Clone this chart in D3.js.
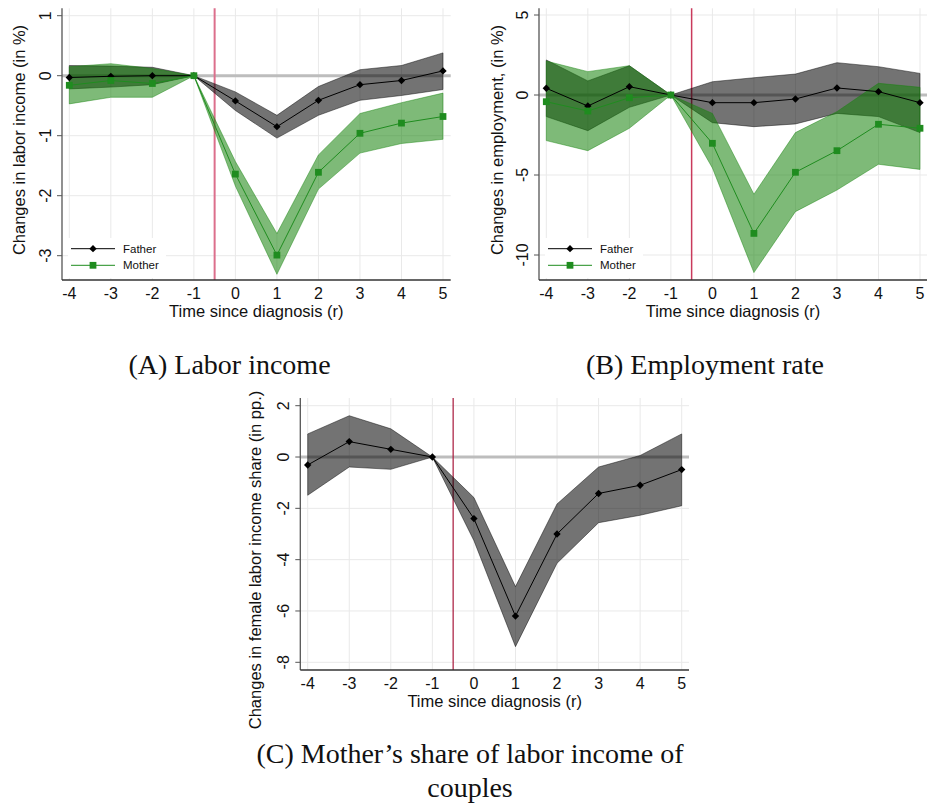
<!DOCTYPE html>
<html>
<head>
<meta charset="utf-8">
<script src="https://cdn.jsdelivr.net/npm/d3@7"></script>
<style>
  html, body { margin: 0; padding: 0; background: #fff; }
  svg { display: block; }
  .tick-label, .axis-title, .legend-text { font-family: "Liberation Sans", Arial, sans-serif; fill: #111; }
  .caption { font-family: "Liberation Serif", "Times New Roman", serif; fill: #111; }
</style>
</head>
<body>
<script>
// Event time relative to diagnosis
const periods = [-4, -3, -2, -1, 0, 1, 2, 3, 4, 5];

// (A) Labor income, % change
const incomeFather   = [-0.03, -0.01, 0.00, 0, -0.42, -0.85, -0.41, -0.15, -0.08, 0.08];
const incomeFatherLo = [-0.22, -0.19, -0.15, 0, -0.58, -1.04, -0.66, -0.41, -0.33, -0.23];
const incomeFatherHi = [0.17, 0.16, 0.14, 0, -0.27, -0.66, -0.18, 0.10, 0.17, 0.38];
const incomeMother   = [-0.16, -0.08, -0.13, 0, -1.64, -2.99, -1.61, -0.96, -0.79, -0.68];
const incomeMotherLo = [-0.47, -0.36, -0.36, 0, -1.84, -3.31, -1.89, -1.29, -1.13, -1.06];
const incomeMotherHi = [0.15, 0.20, 0.12, 0, -1.43, -2.63, -1.32, -0.63, -0.45, -0.29];
const incomeTicks = [1, 0, -1, -2, -3];

// (B) Employment rate, % change
const empFather   = [0.42, -0.69, 0.52, 0, -0.48, -0.48, -0.25, 0.44, 0.21, -0.48];
const empFatherLo = [-1.35, -2.23, -0.77, 0, -1.73, -1.98, -1.81, -1.15, -1.35, -2.35];
const empFatherHi = [2.19, 0.88, 1.83, 0, 0.83, 1.08, 1.31, 2.02, 1.77, 1.35];
const empMother   = [-0.42, -1.00, -0.17, 0, -3.02, -8.65, -4.83, -3.48, -1.83, -2.08];
const empMotherLo = [-2.85, -3.48, -2.08, 0, -4.56, -11.10, -7.29, -5.94, -4.33, -4.65];
const empMotherHi = [2.12, 1.46, 1.83, 0, -1.15, -6.20, -2.35, -1.04, 0.73, 0.48];
const empTicks = [5, 0, -5, -10];

// (C) Female share of couple's labor income, pp. change
const shareMother   = [-0.31, 0.60, 0.30, 0, -2.40, -6.20, -3.00, -1.42, -1.10, -0.49];
const shareMotherLo = [-1.49, -0.39, -0.48, 0, -3.26, -7.39, -4.14, -2.56, -2.27, -1.90];
const shareMotherHi = [0.90, 1.61, 1.10, 0, -1.58, -5.05, -1.83, -0.39, 0.06, 0.90];
const shareTicks = [2, 0, -2, -4, -6, -8];

const legendLabels = ["Father", "Mother"];
const xLabel = "Time since diagnosis (r)";

const svg = d3.select("body").append("svg")
  .attr("width", 928).attr("height", 803);

const FATHER = { line: "#000", fill: "#000", marker: "diamond" };
const MOTHER = { line: "#1f8c1f", fill: "rgb(20,130,10)", marker: "square" };

function markerPath(kind) {
  if (kind === "diamond") return d3.symbol(d3.symbolSquare, 27)();
  return d3.symbol(d3.symbolSquare, 46)();
}

function panel(cfg) {
  const g = svg.append("g");
  const x = d3.scaleLinear().domain([-4, 5]).range(cfg.xRange);
  const y = d3.scaleLinear().domain(cfg.yDomain).range(cfg.yRange);
  const [L, R, T, B] = [cfg.left, cfg.right, cfg.top, cfg.bottom];

  // grid
  g.append("g").selectAll("line").data(periods).join("line")
    .attr("x1", d => x(d)).attr("x2", d => x(d))
    .attr("y1", T).attr("y2", B)
    .attr("stroke", "#e9e9e9").attr("stroke-width", 1);
  g.append("g").selectAll("line").data(cfg.ticks).join("line")
    .attr("x1", L).attr("x2", R)
    .attr("y1", d => y(d)).attr("y2", d => y(d))
    .attr("stroke", "#e9e9e9").attr("stroke-width", 1);

  // reference lines
  g.append("line")
    .attr("x1", L).attr("x2", R).attr("y1", y(0)).attr("y2", y(0))
    .attr("stroke", "#bdbdbd").attr("stroke-width", 3);
  g.append("line")
    .attr("x1", x(-0.5)).attr("x2", x(-0.5)).attr("y1", T).attr("y2", B)
    .attr("stroke", cfg.vColor).attr("stroke-width", cfg.vWidth);

  // confidence bands
  cfg.series.forEach(s => {
    const rows = periods.map((p, i) => ({ p, lo: s.lo[i], hi: s.hi[i] }));
    const area = d3.area().x(d => x(d.p)).y0(d => y(d.lo)).y1(d => y(d.hi));
    g.append("path").datum(rows).attr("d", area)
      .attr("fill", s.style.fill).attr("fill-opacity", 0.55)
      .attr("stroke", s.style.fill).attr("stroke-opacity", 0.45).attr("stroke-width", 1);
  });

  // point estimates
  cfg.series.forEach(s => {
    const rows = periods.map((p, i) => ({ p, v: s.v[i] }));
    g.append("path").datum(rows)
      .attr("d", d3.line().x(d => x(d.p)).y(d => y(d.v)))
      .attr("fill", "none").attr("stroke", s.style.line).attr("stroke-width", 1);
    g.append("g").selectAll("path").data(rows).join("path")
      .attr("d", markerPath(s.style.marker))
      .attr("transform", d => `translate(${x(d.p)},${y(d.v)})` + (s.style.marker === "diamond" ? " rotate(45)" : ""))
      .attr("fill", s.style.line);
  });

  // axes
  g.append("line").attr("x1", L).attr("x2", L).attr("y1", T).attr("y2", B)
    .attr("stroke", "#555").attr("stroke-width", 1.3);
  g.append("line").attr("x1", L).attr("x2", R).attr("y1", B).attr("y2", B)
    .attr("stroke", "#333").attr("stroke-width", 1.3);
  g.append("g").selectAll("line").data(cfg.ticks).join("line")
    .attr("x1", L - 5).attr("x2", L).attr("y1", d => y(d)).attr("y2", d => y(d))
    .attr("stroke", "#555").attr("stroke-width", 1);
  g.append("g").selectAll("text").data(cfg.ticks).join("text")
    .attr("class", "tick-label")
    .attr("transform", d => `translate(${L - 11},${y(d)}) rotate(-90)`)
    .attr("text-anchor", "middle").attr("font-size", 16)
    .text(d => d);
  g.append("g").selectAll("text").data(periods).join("text")
    .attr("class", "tick-label")
    .attr("x", d => x(d)).attr("y", B + 19)
    .attr("text-anchor", "middle").attr("font-size", 16)
    .text(d => d);

  g.append("text").attr("class", "axis-title")
    .attr("x", (L + R) / 2).attr("y", B + 37)
    .attr("text-anchor", "middle").attr("font-size", 16.5)
    .text(xLabel);
  g.append("text").attr("class", "axis-title")
    .attr("transform", `translate(${L - cfg.yTitleOffset},${cfg.yTitleCenter}) rotate(-90)`)
    .attr("text-anchor", "middle").attr("font-size", 16.5)
    .text(cfg.yTitle);

  // legend
  if (cfg.legend) {
    const lg = g.append("g").attr("transform", `translate(${L + 6},${B - 42})`);
    lg.append("rect").attr("width", 98).attr("height", 40).attr("fill", "#fff");
    [FATHER, MOTHER].forEach((st, i) => {
      const yy = 10.7 + i * 16.6;
      lg.append("line").attr("x1", 3).attr("x2", 47).attr("y1", yy).attr("y2", yy)
        .attr("stroke", st.line).attr("stroke-width", 1);
      lg.append("path").attr("d", markerPath(st.marker))
        .attr("transform", `translate(25,${yy})` + (st.marker === "diamond" ? " rotate(45)" : ""))
        .attr("fill", st.line);
      lg.append("text").attr("class", "legend-text")
        .attr("x", 55).attr("y", yy + 4).attr("font-size", 11.5)
        .text(legendLabels[i]);
    });
  }
}

panel({
  left: 62, right: 450.7, top: 8.3, bottom: 280,
  xRange: [69.3, 443], yDomain: [-3, 1], yRange: [255.7, 15.7],
  ticks: incomeTicks, vColor: "#dc6f8c", vWidth: 2,
  yTitle: "Changes in labor income (in %)", yTitleOffset: 37, yTitleCenter: 140,
  legend: true,
  series: [
    { v: incomeFather, lo: incomeFatherLo, hi: incomeFatherHi, style: FATHER },
    { v: incomeMother, lo: incomeMotherLo, hi: incomeMotherHi, style: MOTHER }
  ]
});

panel({
  left: 539, right: 927, top: 8.3, bottom: 280,
  xRange: [546.3, 920], yDomain: [-10, 5], yRange: [255, 15],
  ticks: empTicks, vColor: "#c93a5c", vWidth: 1.5,
  yTitle: "Changes in employment, (in %)", yTitleOffset: 36, yTitleCenter: 140,
  legend: true,
  series: [
    { v: empFather, lo: empFatherLo, hi: empFatherHi, style: FATHER },
    { v: empMother, lo: empMotherLo, hi: empMotherHi, style: MOTHER }
  ]
});

panel({
  left: 300.3, right: 689, top: 398, bottom: 670,
  xRange: [307.7, 681.7], yDomain: [-8, 2], yRange: [662.3, 405.7],
  ticks: shareTicks, vColor: "#a8173a", vWidth: 1.2,
  yTitle: "Changes in female labor income share (in pp.)", yTitleOffset: 39, yTitleCenter: 560,
  legend: false,
  series: [
    { v: shareMother, lo: shareMotherLo, hi: shareMotherHi, style: FATHER }
  ]
});

// sub-figure captions
const captions = [
  { lines: ["(A) Labor income"], x: 229.5, y: 374 },
  { lines: ["(B) Employment rate"], x: 705, y: 374 },
  { lines: ["(C) Mother\u2019s share of labor income of", "couples"], x: 470, y: 763 }
];
captions.forEach(c => {
  const t = svg.append("text").attr("class", "caption")
    .attr("text-anchor", "middle").attr("font-size", 28);
  c.lines.forEach((ln, i) => {
    t.append("tspan").attr("x", c.x).attr("y", c.y + i * 34).text(ln);
  });
});
</script>
</body>
</html>
